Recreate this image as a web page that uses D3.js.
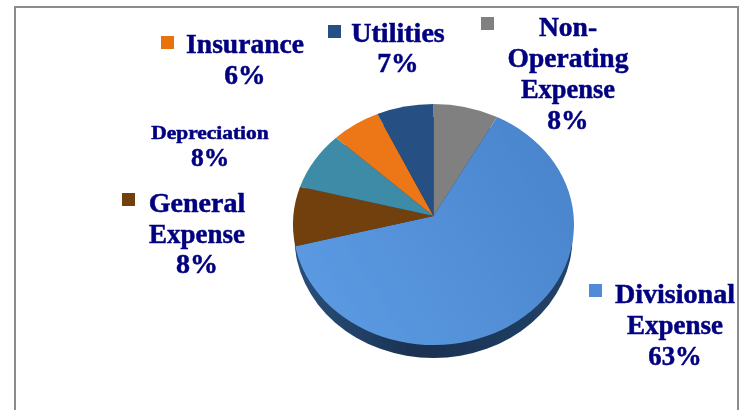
<!DOCTYPE html>
<html><head><meta charset="utf-8">
<script src="https://cdn.jsdelivr.net/npm/d3@7"></script>
<style>html,body{margin:0;padding:0;background:#fff}svg{display:block}</style>
</head><body><svg id="c" width="749" height="410"></svg>
<script>
const categories = ["Non-Operating Expense","Divisional Expense","General Expense","Depreciation","Insurance","Utilities"];
const values = [8,63,8,8,6,7];
const colors = ["#808080","url(#blue)","#71400f","#3c8ba6","#ed7714","#255083"];
const keyColors = ["#808080","#4f8bd6","#71400f",null,"#e8730f","#255083"];
const labelLines = [["Non-","Operating","Expense","8%"],["Divisional","Expense","63%"],["General","Expense","8%"],["Depreciation","8%"],["Insurance","6%"],["Utilities","7%"]];
const labelCx = [568,675,197,210,245,398];
const labelTop = [36,303,212,139,53,42];
const lineGap = [31,31,30.5,27,31,30];
const labelSize = [[27,27,27,27],[27,27,27],[27.5,27.5,27.5],[18,25],[27,27],[27,27]];
const labelStretch = [[1.02,1.02,0.98,1.02],[1.04,1,0.99],[1.02,0.98,1.02],[1.19,1.02],[1.02,1.02],[1.04,1.02]];
const keyPos = [[481,17],[589,284],[122,193],null,[161,36],[328,25]];

const svg = d3.select("#c");
const defs = svg.append("defs");
const g1 = defs.append("linearGradient").attr("id","blue").attr("x1","0").attr("y1","0.8").attr("x2","1").attr("y2","0.3");
g1.append("stop").attr("offset","0").attr("stop-color","#5c9be3");
g1.append("stop").attr("offset","1").attr("stop-color","#4a85cd");
const g2 = defs.append("linearGradient").attr("id","side").attr("x1","0").attr("x2","1").attr("y1","0").attr("y2","0");
g2.append("stop").attr("offset","0").attr("stop-color","#29507c");
g2.append("stop").attr("offset","0.45").attr("stop-color","#1a3050");
g2.append("stop").attr("offset","1").attr("stop-color","#224369");
defs.append("filter").attr("id","soft").append("feGaussianBlur").attr("stdDeviation",0.45);

const root = svg.append("g").attr("filter","url(#soft)");
root.append("path").attr("d","M15,410V7H738V410").attr("fill","none").attr("stroke","#8c8c8c").attr("stroke-width",2);

// tilted pie: a projective map of the unit circle onto the top-face ellipse
const k = -0.0705, depth = 13;
const sx = d3.scaleLinear().domain([-1,1]).range([293,574]);
const sy = d3.scaleLinear().domain([-1,1]).range([104,345]);
const project = a => {
  const u = Math.sin(a), v = -Math.cos(a), w = 1 + k*v;
  return [sx(u*Math.sqrt(1-k*k)/w), sy((v+k)/w)];
};
const rx = (sx(1)-sx(-1))/2, ry = (sy(1)-sy(-1))/2;
const apex = [sx(0), sy(k)];

root.append("ellipse").attr("cx",sx(0)).attr("cy",sy(0)+depth).attr("rx",rx-1.5).attr("ry",ry).attr("fill","url(#side)");

const arcs = d3.pie().sort(null).value(d=>d)(values);
root.selectAll("path.slice").data(arcs).join("path").attr("class","slice")
  .attr("fill",(d,i)=>colors[i])
  .attr("d",d=>{
    const p0 = project(d.startAngle), p1 = project(d.endAngle);
    const large = d.endAngle-d.startAngle > Math.PI ? 1 : 0;
    return `M${apex}L${p0}A${rx},${ry} 0 ${large} 1 ${p1}Z`;
  });

categories.forEach((c,i)=>{
  if(keyPos[i]) root.append("rect").attr("x",keyPos[i][0]).attr("y",keyPos[i][1]).attr("width",13).attr("height",13).attr("fill",keyColors[i]);
  labelLines[i].forEach((t,j)=>{
    root.append("text")
      .attr("transform",`translate(${labelCx[i]},${labelTop[i]+j*lineGap[i]}) scale(${labelStretch[i][j]},1)`)
      .attr("text-anchor","middle").attr("font-family","'Liberation Serif',serif").attr("font-weight","bold")
      .attr("font-size",labelSize[i][j]).attr("fill","#000080")
      .attr("stroke","#000080").attr("stroke-width",0.5).text(t);
  });
});
</script></body></html>
